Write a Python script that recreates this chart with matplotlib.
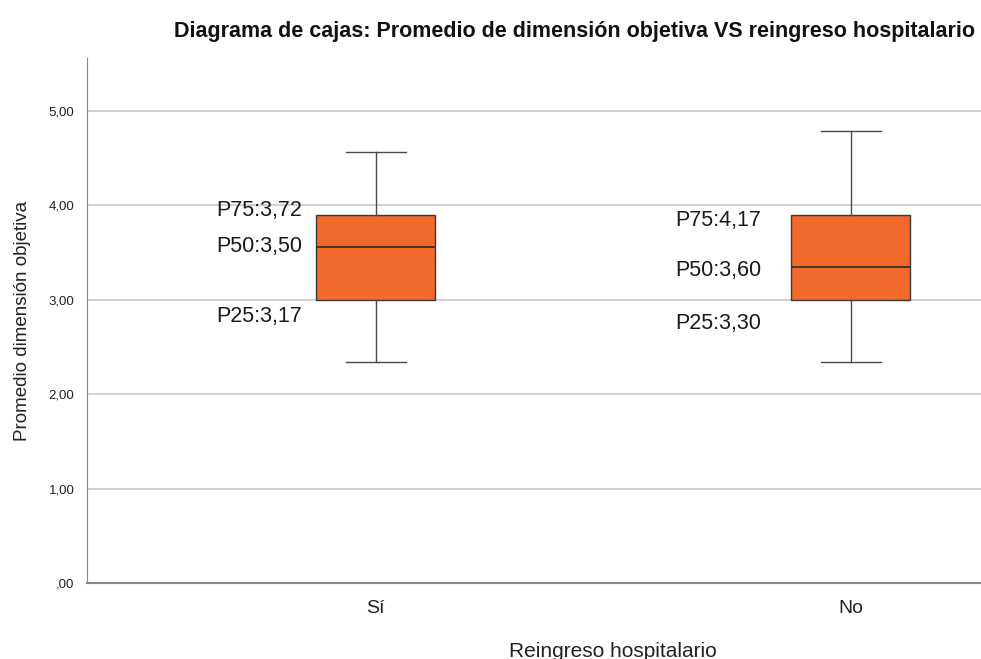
import matplotlib
matplotlib.use("Agg")
import matplotlib.pyplot as plt

categories = ["Sí", "No"]
q1 = [3.00, 3.00]
med = [3.56, 3.34]
q3 = [3.89, 3.89]
whislo = [2.34, 2.34]
whishi = [4.56, 4.78]
p_labels = [["P75:3,72", "P50:3,50", "P25:3,17"],
            ["P75:4,17", "P50:3,60", "P25:3,30"]]
label_y = [[3.94, 3.56, 2.82], [3.84, 3.31, 2.75]]
yticks = [0, 1, 2, 3, 4, 5]
ytick_labels = [",00", "1,00", "2,00", "3,00", "4,00", "5,00"]

normal = ["Liberation Sans", "DejaVu Sans"]

fig = plt.figure(figsize=(9.81, 6.59), dpi=100)
ax = fig.add_axes([87/981, 76/659, 1 - 87/981, (583-58)/659])

positions = [1, 2]
stats = []
for i, c in enumerate(categories):
    stats.append(dict(label=c, q1=q1[i], med=med[i], q3=q3[i],
                      whislo=whislo[i], whishi=whishi[i], fliers=[]))

ax.bxp(stats, positions=positions, widths=0.25, capwidths=0.125,
       patch_artist=True, showfliers=False,
       boxprops=dict(facecolor="#F2692C", edgecolor="#3a3a3a", linewidth=1.0),
       medianprops=dict(color="#2a2a2a", linewidth=1.2),
       whiskerprops=dict(color="#4a4a4a", linewidth=1.0),
       capprops=dict(color="#4a4a4a", linewidth=1.0), zorder=3)

for i in range(2):
    x = 0.392 + (216 - 87) / 475 if i == 0 else 0.392 + (675 - 87) / 475
    for lab, yy in zip(p_labels[i], label_y[i]):
        ax.text(x, yy, lab, fontsize=15.5, family=normal, color="#1a1a1a",
                ha="left", va="center", zorder=4)

ax.set_xlim(0.392, 2.274)
ax.set_ylim(0, 5.556)
ax.set_yticks(yticks)
ax.set_yticklabels(ytick_labels, family=normal, fontsize=9.5, color="#222222")
ax.set_xticks(positions)
ax.set_xticklabels(categories, family=normal, fontsize=14, color="#222222")
ax.tick_params(axis="y", length=0, pad=9)
ax.tick_params(axis="x", length=0, pad=12)
ax.yaxis.grid(True, color="#c8c8c8", linewidth=1.2, zorder=0)
ax.set_axisbelow(True)
for s in ["top", "right"]:
    ax.spines[s].set_visible(False)
ax.spines["left"].set_color("#888888")
ax.spines["bottom"].set_color("#888888")
ax.spines["bottom"].set_linewidth(1.5)

ax.set_ylabel("Promedio dimensión objetiva", family=normal, fontsize=13.5,
              color="#222222", labelpad=13)
ax.text(1.5, -0.72, "Reingreso hospitalario", family=normal, fontsize=15,
        color="#222222", ha="center", va="center")
fig.text(575/981, 1 - 31/659,
         "Diagrama de cajas: Promedio de dimensión objetiva VS reingreso hospitalario",
         family=normal, fontsize=15.5, fontweight="bold", ha="center", va="center",
         color="#111111")

fig.savefig("out.png", dpi=100)
